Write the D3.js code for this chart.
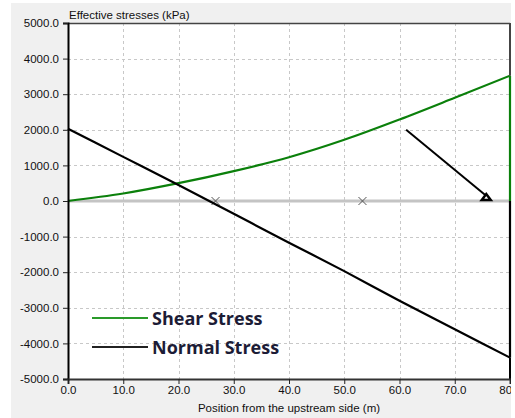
<!DOCTYPE html>
<html>
<head>
<meta charset="utf-8">
<script src="https://cdn.jsdelivr.net/npm/d3@7"></script>
<style>
  body { margin: 0; background: #fff; }
  svg { display: block; }
</style>
</head>
<body>
<div id="chart"></div>
<script>
// values
var positions = [0, 10, 20, 30, 40, 50, 60, 70, 80]
var shearStress = [0, 210, 500, 840, 1230, 1720, 2290, 2900, 3520]
var normalStress = [2030, 1240, 450, -360, -1170, -1970, -2800, -3600, -4400]
var markerPositions = [26.7, 53.3]
var arrowFrom = [61.2, 2000]
var arrowTo = [75.7, 0]
var xTicks = [0, 10, 20, 30, 40, 50, 60, 70, 80]
var yTicks = [-5000, -4000, -3000, -2000, -1000, 0, 1000, 2000, 3000, 4000, 5000]
var legendLabels = ["Shear Stress", "Normal Stress"]
var seriesColors = ["#0b800b", "#000000"]

var W = 515, H = 418
var margin = { top: 23, right: 5, bottom: 39, left: 68 },
  width = 510 - margin.left,
  height = 379 - margin.top

var svg = d3.select("#chart")
  .append("svg")
  .attr("width", W)
  .attr("height", H)

// grey window panel
svg.append("rect")
  .attr("x", 11).attr("y", 3)
  .attr("width", 500).attr("height", H - 3)
  .attr("fill", "#f0f0f0")

svg.append("clipPath").attr("id", "panel")
  .append("rect").attr("x", 11).attr("y", 3).attr("width", 500).attr("height", H - 3)

var g = svg.append("g")
  .attr("transform", "translate(" + margin.left + "," + margin.top + ")")

var x = d3.scaleLinear().domain([0, 80]).range([0, width])
var y = d3.scaleLinear().domain([-5000, 5000]).range([height, 0])

// plot area
g.append("rect")
  .attr("width", width).attr("height", height)
  .attr("fill", "#fff")

// dashed grid
g.selectAll(".vgrid")
  .data(xTicks.filter(function (d) { return d > 0 && d < 80 }))
  .enter().append("line")
  .attr("x1", function (d) { return Math.round(x(d)) + 0.5 })
  .attr("x2", function (d) { return Math.round(x(d)) + 0.5 })
  .attr("y1", 0).attr("y2", height)
  .attr("stroke", "#c8c8c8").attr("stroke-dasharray", "3,3")

g.selectAll(".hgrid")
  .data(yTicks.filter(function (d) { return d > -5000 && d < 5000 && d != 0 }))
  .enter().append("line")
  .attr("y1", function (d) { return Math.round(y(d)) + 0.5 })
  .attr("y2", function (d) { return Math.round(y(d)) + 0.5 })
  .attr("x1", 0).attr("x2", width)
  .attr("stroke", "#c8c8c8").attr("stroke-dasharray", "3,3")

// zero line
g.append("line")
  .attr("x1", 0).attr("x2", width)
  .attr("y1", y(0)).attr("y2", y(0))
  .attr("stroke", "#c4c4c4").attr("stroke-width", 3)

// markers on the base
g.selectAll(".mk")
  .data(markerPositions)
  .enter().append("path")
  .attr("d", function (d) {
    var cx = x(d), cy = y(0)
    return "M" + (cx - 4) + "," + (cy - 4) + "L" + (cx + 4) + "," + (cy + 4) +
      "M" + (cx - 4) + "," + (cy + 4) + "L" + (cx + 4) + "," + (cy - 4)
  })
  .attr("stroke", "#555").attr("stroke-width", 1)

// series lines
var line = d3.line()
  .x(function (d) { return x(d[0]) })
  .y(function (d) { return y(d[1]) })
  .curve(d3.curveMonotoneX)

var series = [
  positions.map(function (p, i) { return [p, shearStress[i]] }),
  positions.map(function (p, i) { return [p, normalStress[i]] })
]

g.selectAll(".series")
  .data(series)
  .enter().append("path")
  .attr("d", line)
  .attr("fill", "none")
  .attr("stroke", function (d, i) { return seriesColors[i] })
  .attr("stroke-width", 2.2)

// each diagram is closed back to the base at the downstream end
g.selectAll(".close")
  .data(series)
  .enter().append("line")
  .attr("x1", function (d) { return x(d[d.length - 1][0]) })
  .attr("x2", function (d) { return x(d[d.length - 1][0]) })
  .attr("y1", function (d) { return y(d[d.length - 1][1]) })
  .attr("y2", y(0))
  .attr("stroke", function (d, i) { return seriesColors[i] })
  .attr("stroke-width", 2.2)

// annotation arrow
var ax = x(arrowTo[0]), ay = y(arrowTo[1])
g.append("line")
  .attr("x1", x(arrowFrom[0])).attr("y1", y(arrowFrom[1]))
  .attr("x2", ax - 1).attr("y2", ay - 6)
  .attr("stroke", "#000").attr("stroke-width", 2)
g.append("path")
  .attr("d", "M" + ax + "," + (ay - 7) + "L" + (ax + 4.5) + "," + (ay - 1) + "L" + (ax - 4.5) + "," + (ay - 1) + "Z")
  .attr("fill", "#fff").attr("stroke", "#000").attr("stroke-width", 2.5)

// frame
g.append("line").attr("x1", 0).attr("x2", width).attr("y1", 0.5).attr("y2", 0.5)
  .attr("stroke", "#444").attr("stroke-width", 1.5)
g.append("line").attr("x1", width).attr("x2", width).attr("y1", 0).attr("y2", y(3520))
  .attr("stroke", "#444").attr("stroke-width", 2)
g.append("line").attr("x1", width).attr("x2", width).attr("y1", y(-4400)).attr("y2", height)
  .attr("stroke", "#000").attr("stroke-width", 2)

var fmt = function (d) { return d.toFixed(1) }

// axes
var yAxis = g.append("g")
  .call(d3.axisLeft(y).tickValues(yTicks).tickFormat(fmt).tickSize(5).tickPadding(4))
yAxis.select(".domain").attr("stroke", "#000").attr("stroke-width", 2)

var xAxis = g.append("g")
  .attr("transform", "translate(0," + height + ")")
  .call(d3.axisBottom(x).tickValues(xTicks).tickFormat(fmt).tickSize(5).tickPadding(2))
xAxis.select(".domain").attr("stroke", "#333").attr("stroke-width", 2)

svg.selectAll(".tick text")
  .attr("font-family", "Liberation Sans, Arial, sans-serif")
  .attr("font-size", 11.5)
  .attr("fill", "#111")
svg.selectAll(".tick line").attr("stroke", "#222")

// clip the last x label at the panel edge like the original
svg.append("g").attr("clip-path", "url(#panel)").node().appendChild(xAxis.node())
xAxis.attr("transform", "translate(" + margin.left + "," + (margin.top + height) + ")")

// titles
svg.append("text")
  .attr("x", margin.left + 1).attr("y", 19)
  .attr("font-family", "Liberation Sans, Arial, sans-serif")
  .attr("font-size", 11.5).attr("fill", "#111")
  .text("Effective stresses (kPa)")

svg.append("text")
  .attr("x", margin.left + x(40)).attr("y", 412)
  .attr("text-anchor", "middle")
  .attr("font-family", "Liberation Sans, Arial, sans-serif")
  .attr("font-size", 11.5).attr("fill", "#111")
  .text("Position from the upstream side (m)")

// legend
var legend = svg.selectAll(".legend")
  .data(legendLabels)
  .enter().append("g")
  .attr("transform", function (d, i) { return "translate(92," + (318 + i * 29) + ")" })

legend.append("line")
  .attr("x1", 0).attr("x2", 56)
  .attr("stroke", function (d, i) { return i == 0 ? "#2a9a2a" : "#222" })
  .attr("stroke-width", 2)

legend.append("text")
  .attr("x", 60).attr("y", 6.5)
  .attr("font-family", "Open Sans, sans-serif")
  .attr("font-weight", "bold")
  .attr("font-size", 18)
  .attr("fill", "#1c1c36")
  .text(function (d) { return d })
</script>
</body>
</html>
